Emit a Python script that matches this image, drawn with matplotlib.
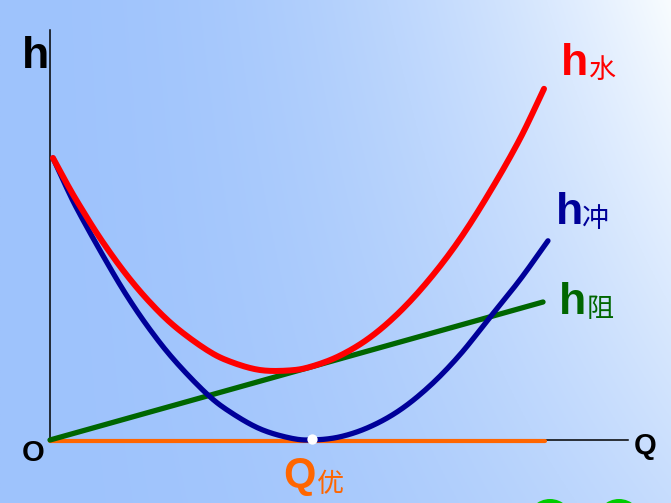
import numpy as np
import matplotlib
matplotlib.use("Agg")
import matplotlib.pyplot as plt
from matplotlib.patches import Circle

W, H = 671, 503

# ---- data (Q, h) ----
q_blue = [0.06, 0.30, 0.55, 1.01, 1.52, 2.02, 2.53, 3.17, 3.64, 4.24, 4.85, 5.29,
          5.86, 6.46, 7.07, 7.68, 8.28, 8.89, 9.49, 10.06]
h_chong = [7.05, 6.40, 5.77, 4.74, 3.67, 2.76, 1.97, 1.15, 0.70, 0.28, 0.05, 0.00,
           0.08, 0.33, 0.75, 1.36, 2.13, 3.07, 4.00, 4.98]

q_red = [0.06, 0.30, 0.55, 1.01, 1.52, 2.02, 2.53, 3.17, 3.64, 4.24, 4.85, 5.29,
         5.86, 6.46, 7.07, 7.68, 8.28, 8.89, 9.49, 9.98]
h_shui = [7.05, 6.50, 5.96, 5.05, 4.17, 3.44, 2.83, 2.25, 1.96, 1.75, 1.74, 1.84,
          2.11, 2.56, 3.21, 4.04, 5.02, 6.21, 7.52, 8.78]

q_green = [0.0, 9.96]
h_zu = [0.0, 3.45]

q_orange = [0.0, 10.0]
h_orange = [0.0, 0.0]

q_opt = 5.29
axis_q_max = 11.68
axis_h_max = 10.25


def smooth_path(xs, ys, n=12):
    """Catmull-Rom rendering of a polyline through the given points."""
    p = np.column_stack([xs, ys]).astype(float)
    p = np.vstack([2 * p[0] - p[1], p, 2 * p[-1] - p[-2]])
    out = []
    tt = np.linspace(0, 1, n, endpoint=False)[:, None]
    for i in range(1, len(p) - 2):
        p0, p1, p2, p3 = p[i - 1], p[i], p[i + 1], p[i + 2]
        seg = 0.5 * ((2 * p1) + (-p0 + p2) * tt + (2 * p0 - 5 * p1 + 4 * p2 - p3) * tt ** 2
                     + (-p0 + 3 * p1 - 3 * p2 + p3) * tt ** 3)
        out.append(seg)
    out.append(p[-2][None, :])
    out = np.vstack(out)
    return out[:, 0], out[:, 1]


# ---- figure ----
fig = plt.figure(figsize=(W / 100, H / 100), dpi=100)

# background gradient
bg = fig.add_axes([0, 0, 1, 1])
bg.set_axis_off()
xx, yy = np.meshgrid(np.linspace(0, 1, 300), np.linspace(0, 1, 240))
t = np.clip(xx ** 2 * (0.45 + 0.55 * (1 - yy)), 0, 1)
left = np.array([158, 195, 252]) / 255.0
right = np.array([248, 252, 255]) / 255.0
img = left[None, None, :] * (1 - t[..., None]) + right[None, None, :] * t[..., None]
bg.imshow(img, extent=[0, 1, 0, 1], aspect='auto', origin='upper')
bg.set_xlim(0, 1)
bg.set_ylim(0, 1)

# decorative circles (bottom right)
deco = fig.add_axes([0, 0, 1, 1])
deco.set_axis_off()
deco.set_xlim(0, W)
deco.set_ylim(H, 0)
for cx in (550, 619):
    deco.add_patch(Circle((cx, 522), 23, color='#00cc00', lw=0))

# main axes in data units
ax = fig.add_axes([0, 0, 1, 1])
ax.set_axis_off()
ax.patch.set_alpha(0)
px_q, px_h = 49.5, 40.0
ax.set_xlim(-50 / px_q, (W - 50) / px_q)
ax.set_ylim(-(H - 440) / px_h, 440 / px_h)

ax.plot([0, 0], [0, axis_h_max], color='black', lw=1.1, zorder=2)
ax.plot([0, axis_q_max], [0, 0], color='black', lw=1.1, zorder=2)

ax.plot(q_orange, np.array(h_orange) - 0.03, color='#ff6600', lw=3.0,
        solid_capstyle='round', zorder=3)
ax.plot(q_green, h_zu, color='#006600', lw=3.8, solid_capstyle='round', zorder=4)
bx, by = smooth_path(q_blue, h_chong)
ax.plot(bx, by, color='#000099', lw=3.8, solid_capstyle='round',
        solid_joinstyle='round', zorder=5)
rx, ry = smooth_path(q_red, h_shui)
ax.plot(rx, ry, color='#ff0000', lw=4.3, solid_capstyle='round',
        solid_joinstyle='round', zorder=6)
ax.scatter([q_opt], [0.02], s=55, color='white', zorder=7, linewidths=0)

# ---- text ----
LAT = ['Liberation Sans', 'DejaVu Sans']
CJK = ['Noto Sans CJK SC', 'DejaVu Sans']


def ftxt(x, y, s, size, color, fam, weight='bold'):
    fig.text(x / W, 1 - y / H, s, fontsize=size, color=color, family=fam,
             fontweight=weight, ha='left', va='baseline')


ftxt(22, 68, 'h', 32, 'black', LAT)
ftxt(22, 461, 'O', 21, 'black', LAT)
ftxt(634, 454, 'Q', 21, 'black', LAT)

ftxt(561, 75, 'h', 32, '#ff0000', LAT)
ftxt(589, 78, '水', 19.5, '#ff0000', CJK, 'normal')

ftxt(556, 224, 'h', 32, '#000099', LAT)
ftxt(582, 227, '冲', 19.5, '#000099', CJK, 'normal')

ftxt(559, 314, 'h', 32, '#006600', LAT)
ftxt(587, 317, '阻', 19.5, '#006600', CJK, 'normal')

ftxt(283, 487, 'Q', 30, '#ff6600', LAT)
ftxt(317, 492, '优', 19.5, '#ff6600', CJK, 'normal')

fig.savefig('out.png', dpi=100)
